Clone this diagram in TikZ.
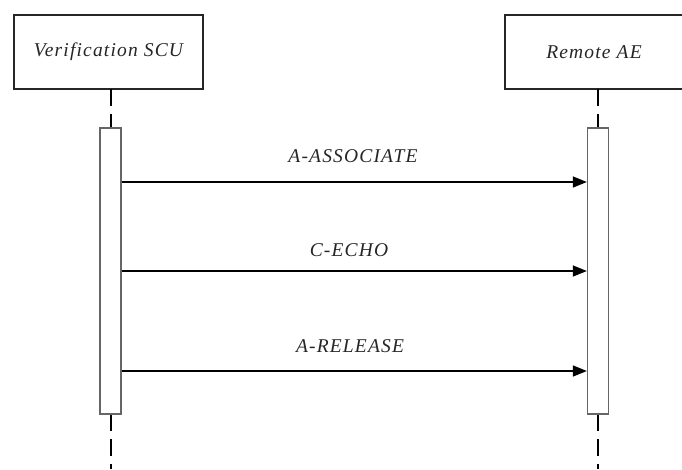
\documentclass[tikz,border=0pt]{standalone}
\usepackage{fontspec}
\setmainfont{Liberation Serif}
\newfontfamily\spacedserif[LetterSpace=6]{Liberation Serif}
\usetikzlibrary{arrows.meta}
\begin{document}
\begin{tikzpicture}[x=1pt,y=-1pt,
  lifebox/.style={draw=black!85,line width=1.3pt,fill=white,minimum width=189pt,minimum height=74pt,inner sep=0pt,font=\spacedserif\fontsize{19.5}{22}\selectfont\itshape,text=black!85},
  actbox/.style={draw=black!60,line width=1.3pt,fill=white,minimum width=21pt,minimum height=286pt,inner sep=0pt},
  lifeline/.style={line width=1.3pt,dash pattern=on 17pt off 8pt},
  msg/.style={line width=1.3pt,-{Triangle[length=14pt,width=11pt]}},
  msglabel/.style={font=\spacedserif\fontsize{19.5}{22}\selectfont\itshape,inner sep=0pt,text=black!85}]
\useasboundingbox (0,0) rectangle (682,469);
\node[lifebox] (scu) at (108.5,52) {Verification SCU};
\node[lifebox,minimum width=178pt] (ae) at (594,52) {Remote AE};
\coordinate (scuend) at (111,469);
\coordinate (aeend) at (598,469);
\draw[lifeline] (111,89) -- (scuend);
\draw[lifeline] (598,89) -- (aeend);
\node[actbox] (act1) at (110.5,271) {};
\node[actbox] (act2) at (598,271) {};
\coordinate (a1) at (act1.east |- 0,182);
\coordinate (b1) at (act2.west |- 0,182);
\coordinate (a2) at (act1.east |- 0,271);
\coordinate (b2) at (act2.west |- 0,271);
\coordinate (a3) at (act1.east |- 0,371);
\coordinate (b3) at (act2.west |- 0,371);
\draw[msg] (a1) -- (b1);
\draw[msg] (a2) -- (b2);
\draw[msg] (a3) -- (b3);
\node[msglabel] (l1) at (353,156) {A-ASSOCIATE};
\node[msglabel] (l2) at (349,250) {C-ECHO};
\node[msglabel] (l3) at (350,346) {A-RELEASE};
\end{tikzpicture}
\end{document}
